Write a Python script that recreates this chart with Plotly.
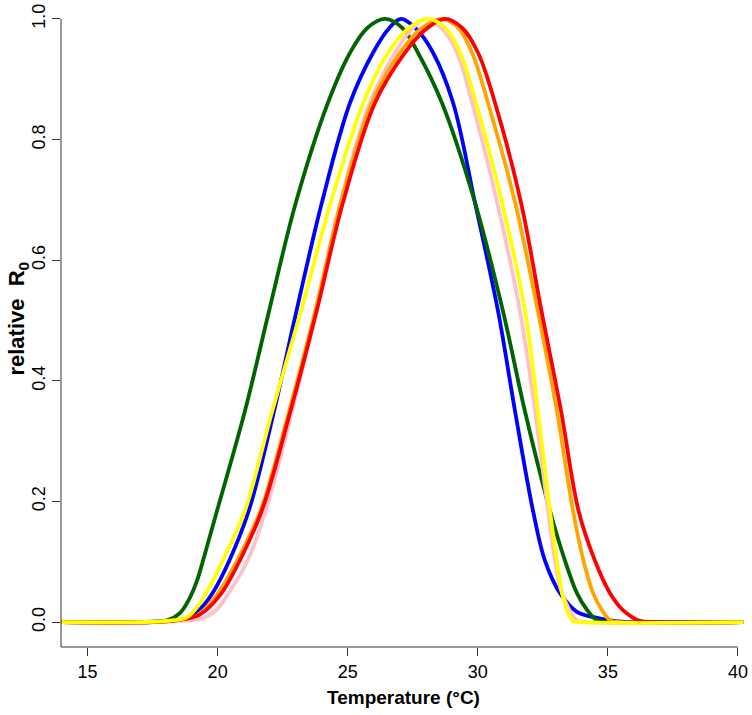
import plotly.graph_objects as go

# Values (temperature in °C, relative R0)
green_T = [14.0, 17.0, 17.6, 18.06, 18.55, 18.94, 19.21, 19.44, 19.98, 21.05, 22.0, 23.01, 24.24, 25.09,
           25.75, 26.43, 27.1, 27.70, 28.62, 29.89, 30.97, 31.81, 32.77, 33.35, 33.81, 34.20, 34.58, 35.0, 40.2]
green_R = [0.0, 0.0, 0.001, 0.003, 0.015, 0.041, 0.069, 0.102, 0.185, 0.35, 0.52, 0.696, 0.861, 0.944,
           0.985, 1.0, 0.985, 0.944, 0.861, 0.696, 0.515, 0.35, 0.185, 0.102, 0.048, 0.020, 0.003, 0.0, 0.0]

blue_T = [14.0, 17.5, 18.2, 18.8, 19.4, 19.9, 20.45, 21.2, 22.17, 23.0, 24.01, 25.09, 26.0, 26.6, 27.05,
          27.6, 28.28, 29.05, 29.89, 30.78, 31.43, 32.12, 32.58, 33.16, 33.81, 34.58, 35.35, 36.0, 40.2]
blue_R = [0.0, 0.0, 0.002, 0.006, 0.025, 0.055, 0.102, 0.185, 0.35, 0.51, 0.696, 0.861, 0.946, 0.985, 1.0,
          0.985, 0.944, 0.861, 0.696, 0.515, 0.35, 0.185, 0.102, 0.048, 0.017, 0.007, 0.001, 0.0, 0.0]

pink_T = [14.0, 17.5, 18.5, 19.3, 19.9, 20.5, 21.15, 21.85, 22.86, 23.78, 24.72, 25.85, 26.82, 27.4, 28.0,
          28.6, 29.20, 29.78, 30.74, 31.62, 32.20, 32.70, 32.97, 33.24, 33.81, 34.2, 40.2]
pink_R = [0.0, 0.0, 0.002, 0.005, 0.018, 0.053, 0.102, 0.185, 0.35, 0.515, 0.696, 0.861, 0.944, 0.98, 1.0,
          0.985, 0.944, 0.861, 0.696, 0.515, 0.35, 0.185, 0.102, 0.048, 0.003, 0.0, 0.0]

orange_T = [14.0, 17.5, 18.4, 19.25, 20.05, 20.75, 21.65, 22.75, 23.75, 24.74, 25.93, 27.01, 27.85, 28.62,
            29.25, 29.78, 30.39, 31.43, 32.31, 33.04, 33.66, 34.06, 34.43, 34.77, 35.08, 35.5, 40.2]
orange_R = [0.0, 0.0, 0.003, 0.012, 0.05, 0.102, 0.185, 0.35, 0.515, 0.696, 0.861, 0.944, 0.985, 1.0,
            0.985, 0.944, 0.861, 0.696, 0.515, 0.35, 0.185, 0.102, 0.048, 0.020, 0.003, 0.0, 0.0]

red_T = [14.0, 17.5, 18.4, 19.3, 20.1, 20.85, 21.7, 22.8, 23.8, 24.82, 26.05, 27.20, 27.98, 28.74,
         29.4, 30.01, 30.66, 31.66, 32.45, 33.2, 33.87, 34.50, 35.08, 35.58, 36.23, 36.8, 40.2]
red_R = [0.0, 0.0, 0.003, 0.012, 0.045, 0.102, 0.185, 0.35, 0.515, 0.696, 0.861, 0.944, 0.982, 1.0,
         0.985, 0.944, 0.861, 0.696, 0.515, 0.35, 0.185, 0.102, 0.048, 0.020, 0.002, 0.0, 0.0]

yellow_T = [14.0, 17.0, 18.1, 18.82, 19.32, 19.82, 20.2, 21.05, 22.1, 23.2, 24.35, 25.6, 26.55, 27.35, 28.09,
            28.75, 29.32, 29.93, 30.93, 31.82, 32.31, 32.77, 33.04, 33.24, 33.43, 33.66, 34.0, 40.2]
yellow_R = [0.0, 0.0, 0.002, 0.008, 0.031, 0.069, 0.102, 0.185, 0.35, 0.515, 0.696, 0.861, 0.944, 0.985, 1.0,
            0.985, 0.944, 0.861, 0.696, 0.515, 0.35, 0.185, 0.102, 0.048, 0.020, 0.002, 0.0, 0.0]

series = [
    ("blue", blue_T, blue_R),
    ("darkgreen", green_T, green_R),
    ("pink", pink_T, pink_R),
    ("orange", orange_T, orange_R),
    ("red", red_T, red_R),
    ("yellow", yellow_T, yellow_R),
]

x_ticks = [15, 20, 25, 30, 35, 40]
y_ticks = [0.0, 0.2, 0.4, 0.6, 0.8, 1.0]
y_tick_text = ["0.0", "0.2", "0.4", "0.6", "0.8", "1.0"]

fig = go.Figure()
for color, T, R in series:
    fig.add_trace(go.Scatter(x=T, y=R, mode="lines",
                             line=dict(color=color, width=3.8, shape="spline", smoothing=1.0),
                             showlegend=False, hoverinfo="skip"))

font = "Liberation Sans, Arial, Helvetica, sans-serif"
x_min, x_max = 13.98, 40.27
y_min, y_max = -0.0413, 1.0198

fig.update_layout(
    width=752, height=715,
    margin=dict(l=61, r=7, t=4, b=68),
    plot_bgcolor="white", paper_bgcolor="white",
    font=dict(family=font, size=18, color="black"),
    xaxis=dict(range=[x_min, x_max], showgrid=False, zeroline=False, showline=False,
               tickmode="array", tickvals=x_ticks, ticks="outside", ticklen=8,
               tickwidth=1, tickcolor="#333", tickfont=dict(size=18)),
    yaxis=dict(range=[y_min, y_max], showgrid=False, zeroline=False, showline=False,
               tickmode="array", tickvals=y_ticks, ticktext=y_tick_text, ticks="outside",
               ticklen=8, tickwidth=1, tickcolor="#333", tickangle=-90, tickfont=dict(size=18)),
    shapes=[
        dict(type="line", xref="paper", yref="y", x0=0, x1=0, y0=y_min, y1=1.0,
             line=dict(color="#333", width=1)),
        dict(type="line", xref="x", yref="paper", x0=x_min, x1=40, y0=0, y1=0,
             line=dict(color="#333", width=1)),
    ],
    annotations=[
        dict(text="<b>Temperature (°C)</b>", xref="paper", yref="paper", x=0.5, y=-0.079,
             xanchor="center", yanchor="middle", showarrow=False, font=dict(size=19)),
        dict(text="<b>relative  R<sub>0</sub></b>", xref="paper", yref="paper", x=-0.063, y=0.513,
             xanchor="center", yanchor="middle", textangle=-90, showarrow=False, font=dict(size=22)),
    ],
)

fig.write_html("out.html")
